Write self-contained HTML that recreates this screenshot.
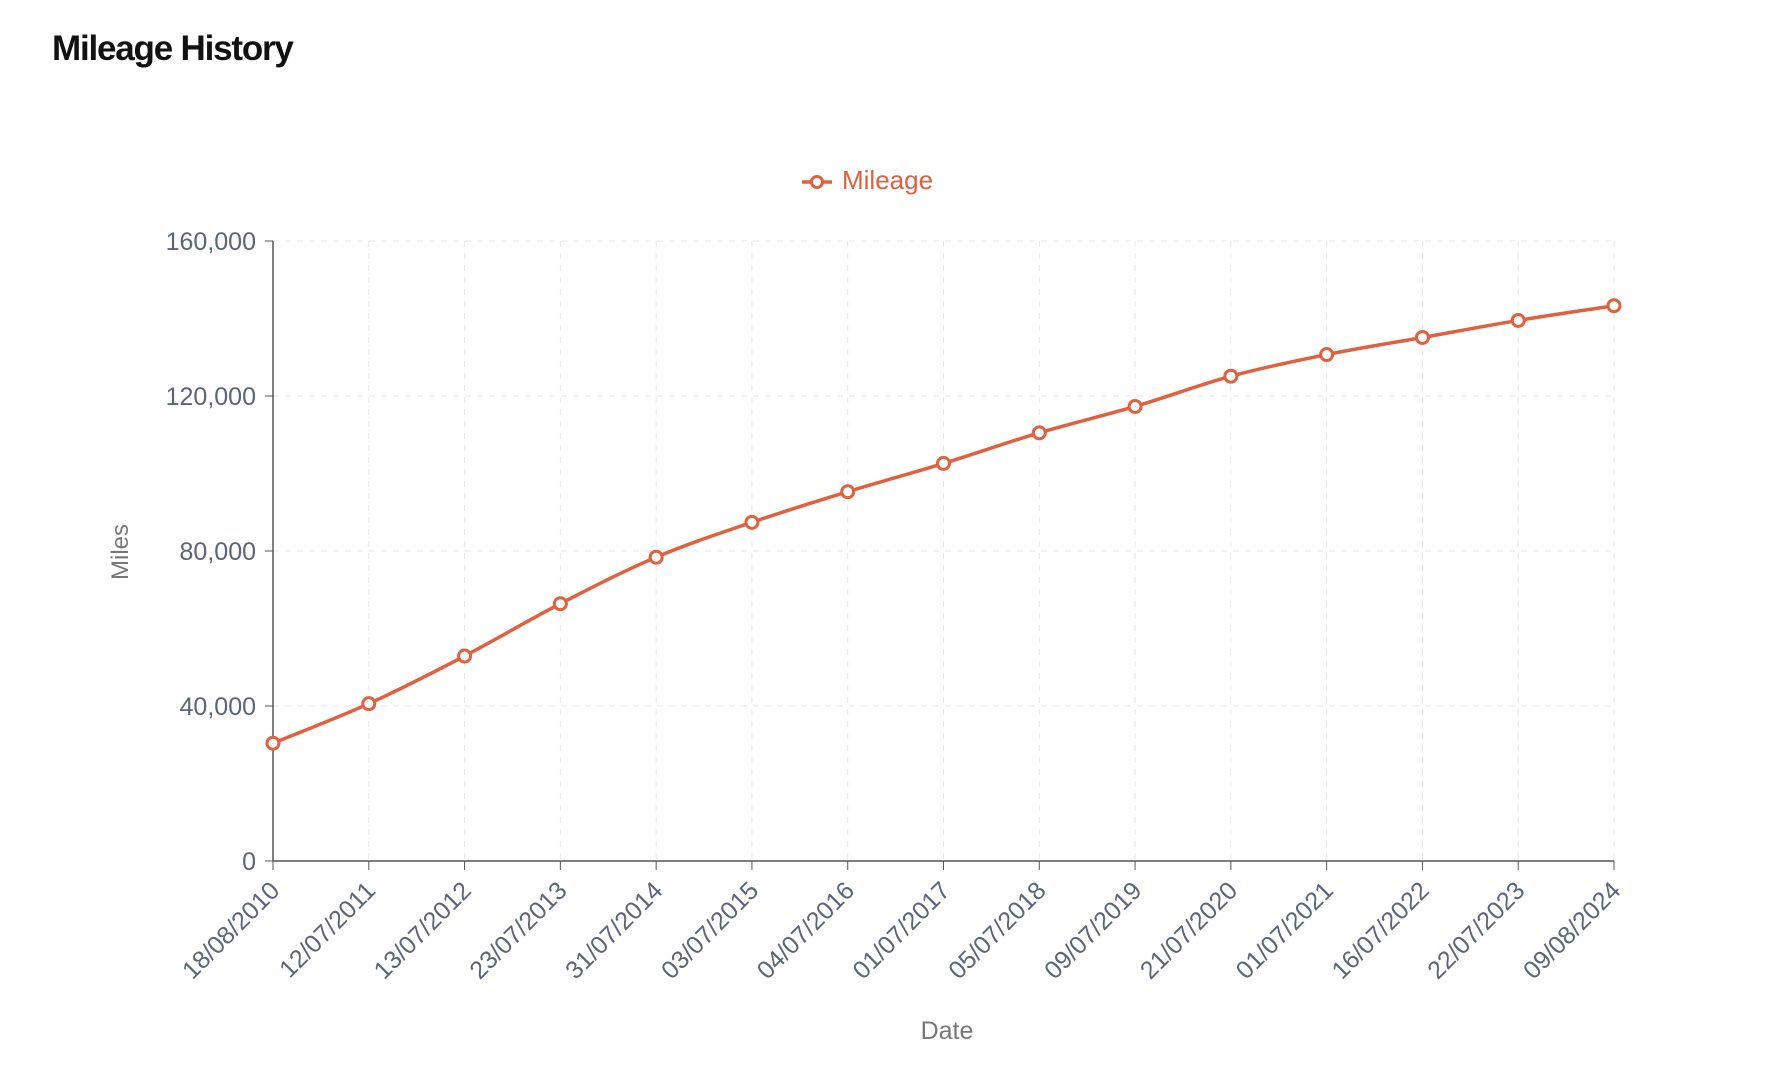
<!DOCTYPE html>
<html><head><meta charset="utf-8"><style>
body{margin:0;background:#fff;width:1776px;height:1066px;overflow:hidden;font-family:"Liberation Sans",sans-serif}
h1{position:absolute;left:52px;top:29px;margin:0;font-size:35px;font-weight:bold;letter-spacing:-1.2px;color:#111}
</style></head><body>
<h1>Mileage History</h1>
<svg id="c" width="1776" height="1066" style="position:absolute;left:0;top:0"></svg>
<script>
const categories=["18/08/2010","12/07/2011","13/07/2012","23/07/2013","31/07/2014","03/07/2015","04/07/2016","01/07/2017","05/07/2018","09/07/2019","21/07/2020","01/07/2021","16/07/2022","22/07/2023","09/08/2024"];
const mileage=[30400,40600,52900,66400,78400,87400,95300,102600,110500,117300,125100,130700,135100,139500,143300];
const yTicks=[0,40000,80000,120000,160000];
const L=273,R=1614,T=241,B=861,C="#e0603f",NS="http://www.w3.org/2000/svg";
const svg=document.getElementById('c');
const xs=i=>L+i*(R-L)/(categories.length-1);
const ys=v=>B-v/160000*(B-T);
function mk(t,a,p){const e=document.createElementNS(NS,t);for(const k in a)e.setAttribute(k,a[k]);(p||svg).appendChild(e);return e;}
yTicks.forEach(v=>{
  if(v>0){const g=mk('line',{x1:L,x2:R,y1:ys(v),y2:ys(v),stroke:"#e6e6e6","stroke-dasharray":"6 6"});
  
  }
  mk('line',{x1:L-8,x2:L,y1:ys(v),y2:ys(v),stroke:"#555"});
  const t=mk('text',{x:L-17,y:ys(v)+9,"text-anchor":"end","font-size":"25",fill:"#5b6478"});t.textContent=v.toLocaleString('en-US');
  
  
});
categories.forEach((c,i)=>{
  const x=xs(i);
  if(i>0){const g=mk('line',{x1:x,x2:x,y1:T,y2:B,stroke:"#e6e6e6","stroke-dasharray":"6 6"});
  
  }
  mk('line',{x1:x,x2:x,y1:B,y2:B+9,stroke:"#555"});
  const t=mk('text',{x:x+8,y:B+31,"text-anchor":"end","font-size":"25",fill:"#5b6478",transform:`rotate(-45 ${x+8} ${B+31})`});t.textContent=c;
  
  
});
mk('line',{x1:L,x2:L,y1:T,y2:B,stroke:"#555","stroke-width":1.5});
mk('line',{x1:L,x2:R,y1:B,y2:B,stroke:"#555","stroke-width":1.5});
const P=mileage.map((v,i)=>[xs(i),ys(v)]);const n=P.length;
const d=[];for(let i=0;i<n-1;i++)d.push((P[i+1][1]-P[i][1])/(P[i+1][0]-P[i][0]));
const m=[d[0]];for(let i=1;i<n-1;i++)m.push(d[i-1]*d[i]<=0?0:(d[i-1]+d[i])/2);m.push(d[n-2]);
let path=`M${P[0][0]},${P[0][1]}`;
for(let i=0;i<n-1;i++){const h=(P[i+1][0]-P[i][0])/3;path+=` C${P[i][0]+h},${P[i][1]+m[i]*h} ${P[i+1][0]-h},${P[i+1][1]-m[i+1]*h} ${P[i+1][0]},${P[i+1][1]}`;}
const ln=mk('path',{d:path,fill:"none",stroke:C,"stroke-width":3.5});


P.forEach(p=>{const c=mk('circle',{cx:p[0],cy:p[1],r:6,fill:"#fff",stroke:C,"stroke-width":3});

});
const lg=mk('g',{});


mk('line',{x1:802,x2:832,y1:182,y2:182,stroke:C,"stroke-width":3.5},lg);
mk('circle',{cx:817,cy:182,r:5.5,fill:"#fff",stroke:C,"stroke-width":3},lg);
const lt=mk('text',{x:842,y:189,"font-size":"26",fill:C},lg);lt.textContent="Mileage";
const ya=mk('text',{x:0,y:0,"font-size":"24",fill:"#777","text-anchor":"middle",transform:"translate(128 552) rotate(-90)"});ya.textContent="Miles";


const xa=mk('text',{x:947,y:1039,"font-size":"25",fill:"#777","text-anchor":"middle"});xa.textContent="Date";


</script>
</body></html>
